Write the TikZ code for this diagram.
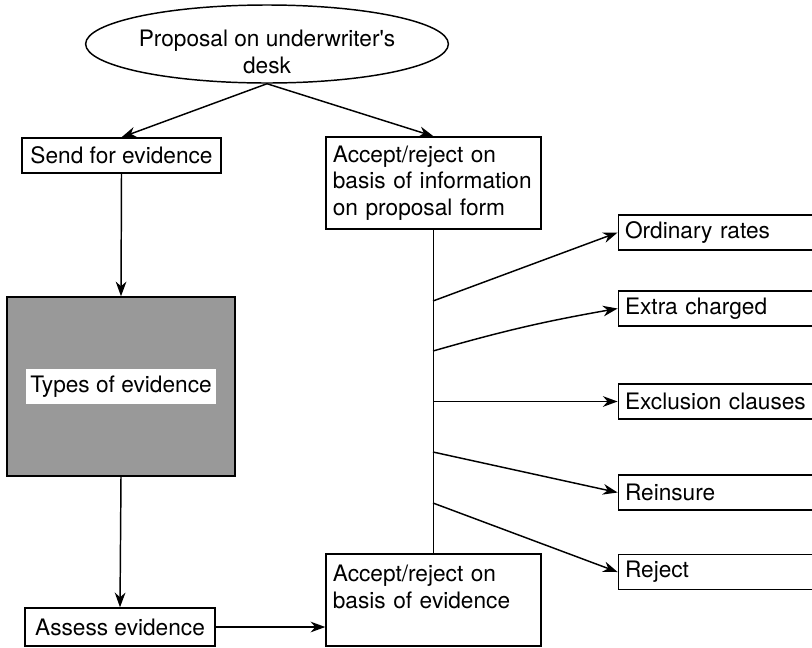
\documentclass[tikz,border=0pt]{standalone}
\usepackage{fontspec}
\setmainfont{TeX Gyre Heros}
\usetikzlibrary{shapes.geometric, arrows.meta, positioning}

\begin{document}
\begin{tikzpicture}[
        x=0.75pt, y=-0.75pt,
        font=\fontsize{17}{20}\selectfont,
        line width=1.1pt,
        >={Stealth[length=11pt, width=8pt, inset=3.5pt]},
        box/.style={rectangle, draw, fill=white, inner sep=0pt, text centered},
        tbox/.style={rectangle, draw, fill=white, align=left, inner xsep=5pt, inner ysep=0pt},
        outcome/.style={tbox, minimum width=147.75pt, minimum height=26.25pt, text width=138pt},
        oval/.style={ellipse, draw, inner xsep=0pt, inner ysep=-2pt, align=center, minimum width=230pt, minimum height=58.5pt}
    ]
        \useasboundingbox (0,0) rectangle (812,647);

        \node (desk) [oval] at (267,44) {\rule{0pt}{24pt}Proposal on underwriter\textquotesingle s\\desk};
        \node (send) [box, minimum width=149.25pt, minimum height=26.25pt] at (121.5,155.5) {Send for evidence};
        \node (formacc) [tbox, minimum width=161.25pt, minimum height=69pt, text width=151pt] at (433.5,183)
            {Accept/reject on\\basis of information\\on proposal form};
        \node (types) [rectangle, draw, fill=black!40, minimum width=171pt, minimum height=134.25pt] at (121,386.5) {};
        \node (typeslbl) [fill=white, inner xsep=3pt, inner ysep=5pt] at (types.center) {Types of evidence};
        \node (assess) [box, minimum width=142.5pt, minimum height=28.5pt] at (120,627) {Assess evidence};
        \node (evacc) [tbox, minimum width=161.25pt, minimum height=69pt, text width=151pt] at (433.5,600)
            {Accept/reject on\\basis of evidence\\\mbox{}};

        \node (ordinary) [outcome] at (717,232.5) {Ordinary rates};
        \node (extra) [outcome] at (717,308.5) {Extra charged};
        \node (exclusion) [outcome] at (717,401.5) {Exclusion clauses};
        \node (reinsure) [outcome] at (717,492.5) {Reinsure};
        \node (reject) [outcome] at (717,572) {Reject};

        \coordinate (b1) at (433,301);
        \coordinate (b2) at (433,351);
        \coordinate (b3) at (433,401.5);
        \coordinate (b4) at (433,452);
        \coordinate (b5) at (433,503);

        \draw [->] (desk.south) -- (send.north);
        \draw [->] (desk.south) -- (formacc.north);
        \draw [->] (send.south) -- (types.north);
        \draw [->] (types.south) -- (assess.north);
        \draw [->] (assess.east) -- (assess.east -| evacc.west);
        \draw (formacc.south) -- (evacc.north);

        \draw [->] (b1) -- (ordinary.west);
        \draw [->] (b2) to[bend left=3] (extra.west);
        \draw [->] (b3) -- (exclusion.west);
        \draw [->] (b4) -- (reinsure.west);
        \draw [->] (b5) -- (reject.west);
    \end{tikzpicture}
\end{document}
